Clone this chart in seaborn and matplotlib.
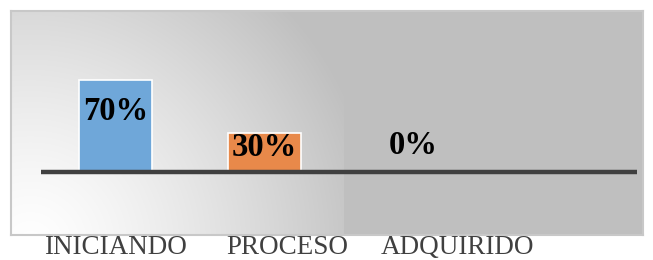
import numpy as np
import pandas as pd
import matplotlib
matplotlib.use("Agg")
import matplotlib.pyplot as plt
import seaborn as sns

categories = ["INICIANDO", "PROCESO", "ADQUIRIDO"]
values = [70, 30, 0]
value_labels = ["70%", "30%", "0%"]

bar_colors = ["#6fa7d9", "#e8894a", "#a5a5a5"]

sns.set_theme(style="white")
plt.rcParams["font.family"] = ["Liberation Serif", "DejaVu Serif"]

W, H = 653, 260
fig = plt.figure(figsize=(W / 100, H / 100), dpi=100)

# plot area in pixels
x0, x1, y0, y1 = 11, 643, 11, 235
ax = fig.add_axes([x0 / W, (H - y1) / H, (x1 - x0) / W, (y1 - y0) / H])

df = pd.DataFrame({"cat": categories, "val": values})
sns.barplot(data=df, x="cat", y="val", hue="cat", palette=bar_colors,
            order=categories, legend=False, width=0.49, ax=ax,
            saturation=1, edgecolor="white", linewidth=1.2, zorder=2)

# scale: baseline at pixel 172, 1.314 px per percent, 149 px per category
ppu = 1.314
base = 172
ymax = (base - y0) / ppu
ymin = -(y1 - base) / ppu
xl = -0.5 - (41 - x0) / 149
xr = 3.5 + (x1 - 637) / 149

# gradient background
hh, ww = y1 - y0, x1 - x0
xx, yy = np.meshgrid(np.arange(ww) + x0, np.arange(hh) + y0)
d = np.sqrt((xx - 30) ** 2 + (yy - 245) ** 2)
v = 1 - 0.25 * np.clip(d / 350, 0, 1) ** 1.3
v[xx > 343] = 0.75
img = np.dstack([v, v, v])
ax.imshow(img, extent=[xl, xr, ymin, ymax], aspect="auto", zorder=0,
          interpolation="bilinear")
ax.set_xlim(xl, xr)
ax.set_ylim(ymin, ymax)

ax.axhline(0, xmin=(-0.5 - xl) / (xr - xl), xmax=(3.5 - xl) / (xr - xl),
           color="#404040", lw=3.2, zorder=3, solid_capstyle="butt")

# value labels (offsets in percent units below bar top)
label_offsets = [24.0, 11.5, -20.5]
for i, (val, lab) in enumerate(zip(values, value_labels)):
    ax.text(i, val - label_offsets[i], lab, ha="center", va="center",
            fontsize=23.5, fontweight="bold", color="black", zorder=4)

ax.set_xticks([])
ax.set_yticks([])
ax.set_xlabel("")
ax.set_ylabel("")
for s in ax.spines.values():
    s.set_visible(True)
    s.set_color("#c8c8c8")
    s.set_linewidth(1.5)

# category labels below the frame
label_x = [115, 287, 457]
for cx, cat in zip(label_x, categories):
    fig.text(cx / W, 1 - 248 / H, cat, ha="center", va="center",
             fontsize=19.5, color="#404040")

fig.savefig("out.png", dpi=100)
